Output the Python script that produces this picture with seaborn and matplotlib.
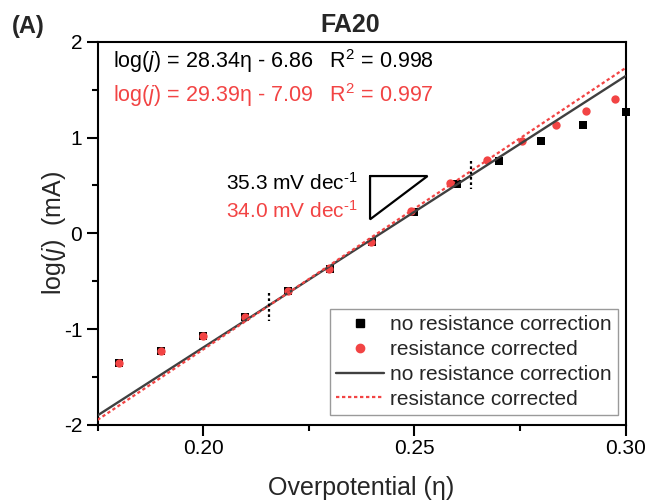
import numpy as np
import pandas as pd
import matplotlib
matplotlib.use("Agg")
import matplotlib.pyplot as plt
from matplotlib.lines import Line2D
from matplotlib.ticker import MultipleLocator
import seaborn as sns

# Tafel data for FA20
eta_raw = [0.18, 0.19, 0.20, 0.21, 0.22, 0.23, 0.24, 0.25, 0.26, 0.27, 0.28, 0.29, 0.30]
logj_raw = [-1.35, -1.23, -1.07, -0.87, -0.60, -0.37, -0.09, 0.22, 0.515, 0.76, 0.963, 1.13, 1.27]

eta_corr = [0.18, 0.19, 0.20, 0.21, 0.22, 0.2298, 0.2397, 0.2493, 0.2584, 0.2672,
            0.2754, 0.2834, 0.2907, 0.2974]
logj_corr = [-1.35, -1.23, -1.07, -0.87, -0.60, -0.37, -0.09, 0.235, 0.522, 0.765,
             0.963, 1.13, 1.275, 1.40]

# Linear fits (slope, intercept) as reported
fit_slope = [28.34, 29.39]
fit_intercept = [-6.86, -7.09]
fit_r2 = [0.998, 0.997]
tafel_slopes = ["35.3", "34.0"]
series_names = ["no resistance correction", "resistance corrected"]

# Fit window boundaries
fit_window = [0.2156, 0.2634]

BLACK = "#000000"
RED = "#F24444"
GREY = "#404040"

sns.set_style("ticks")
plt.rcParams["font.family"] = ["Liberation Sans", "DejaVu Sans"]
plt.rcParams["mathtext.fontset"] = "custom"
plt.rcParams["mathtext.rm"] = "Liberation Sans"
plt.rcParams["mathtext.it"] = "Liberation Sans:italic"
plt.rcParams["mathtext.bf"] = "Liberation Sans:bold"

fig = plt.figure(figsize=(6.48, 5.04), dpi=100)
ax = fig.add_axes([97.5 / 648, 1 - 425 / 504, 528.2 / 648, 383.3 / 504])

xlim = (0.175, 0.30)
df_raw = pd.DataFrame({"eta": eta_raw, "logj": logj_raw})
df_corr = pd.DataFrame({"eta": eta_corr, "logj": logj_corr})

sns.scatterplot(data=df_raw, x="eta", y="logj", marker="s", s=34, color=BLACK,
                linewidth=0, ax=ax, clip_on=False, zorder=3)
sns.scatterplot(data=df_corr, x="eta", y="logj", marker="o", s=36, color=RED,
                linewidth=0, ax=ax, clip_on=False, zorder=4)

x_fit = np.array(xlim)
df_fit0 = pd.DataFrame({"eta": x_fit, "logj": fit_slope[0] * x_fit + fit_intercept[0]})
df_fit1 = pd.DataFrame({"eta": x_fit, "logj": fit_slope[1] * x_fit + fit_intercept[1]})
sns.lineplot(data=df_fit0, x="eta", y="logj", color=GREY, linewidth=1.7, ax=ax, zorder=5)
sns.lineplot(data=df_fit1, x="eta", y="logj", color=RED, linewidth=1.6,
             linestyle=(0, (1.5, 1.2)), ax=ax, zorder=6)

# fit window markers
ax.plot([fit_window[0]] * 2, [-0.625, -0.915], color=BLACK, lw=1.6,
        linestyle=(0, (1.2, 1.2)), zorder=7)
ax.plot([fit_window[1]] * 2, [0.75, 0.46], color=BLACK, lw=1.6,
        linestyle=(0, (1.2, 1.2)), zorder=7)

# slope triangle
tri_x = [0.2395, 0.2531, 0.2395, 0.2395]
tri_y = [0.598, 0.598, 0.146, 0.598]
ax.plot(tri_x, tri_y, color=BLACK, lw=1.6, solid_joinstyle="miter", zorder=7)

ax.text(0.2365, 0.452, tafel_slopes[0] + r" mV dec$^{\text{-1}}$", color=BLACK, fontsize=15,
        ha="right", va="baseline")
ax.text(0.2365, 0.167, tafel_slopes[1] + r" mV dec$^{\text{-1}}$", color=RED, fontsize=15,
        ha="right", va="baseline")

ax.text(0.029, 0.9306,
        r"log($j$) = %.2fη - %.2f   R$^2$ = %.3f" % (fit_slope[0], -fit_intercept[0], fit_r2[0]),
        transform=ax.transAxes, color=BLACK, fontsize=15.5, ha="left", va="baseline")
ax.text(0.029, 0.8435,
        r"log($j$) = %.2fη - %.2f   R$^2$ = %.3f" % (fit_slope[1], -fit_intercept[1], fit_r2[1]),
        transform=ax.transAxes, color=RED, fontsize=15.5, ha="left", va="baseline")

ax.set_xlim(*xlim)
ax.set_ylim(-2, 2)
ax.xaxis.set_major_locator(MultipleLocator(0.05))
ax.xaxis.set_minor_locator(MultipleLocator(0.025))
ax.yaxis.set_major_locator(MultipleLocator(1))
ax.yaxis.set_minor_locator(MultipleLocator(0.5))
ax.set_xticks([0.20, 0.25, 0.30])
ax.set_xticklabels(["0.20", "0.25", "0.30"])
ax.set_yticks([-2, -1, 0, 1, 2])
ax.set_yticklabels(["-2", "-1", "0", "1", "2"])

ax.tick_params(axis="both", which="major", direction="out", length=8, width=1.5,
               labelsize=15, color=BLACK, labelcolor=BLACK)
ax.tick_params(axis="both", which="minor", direction="out", length=4.5, width=1.5, color=BLACK)
ax.tick_params(axis="x", which="major", pad=2)
ax.tick_params(axis="y", which="major", pad=3)
ax.tick_params(top=False, right=False, which="both")
for sp in ax.spines.values():
    sp.set_visible(True)
    sp.set_linewidth(1.5)
    sp.set_color(BLACK)

ax.set_xlabel("Overpotential (η)", fontsize=18, labelpad=13)
ax.set_ylabel(r"log($j$)  (mA)", fontsize=18, labelpad=-3)

handles = [
    Line2D([], [], marker="s", linestyle="none", color=BLACK, markersize=5.8),
    Line2D([], [], marker="o", linestyle="none", color=RED, markersize=6),
    Line2D([], [], color=GREY, linewidth=1.7),
    Line2D([], [], color=RED, linewidth=1.6, linestyle=(0, (1.5, 1.2))),
]
labels = [series_names[0], series_names[1], series_names[0], series_names[1]]
leg = ax.legend(handles, labels, loc="lower right", bbox_to_anchor=(0.9854, 0.026),
                borderaxespad=0, fontsize=15, frameon=True, fancybox=False,
                framealpha=1, edgecolor="#9a9a9a", handlelength=2.3,
                handletextpad=0.3, labelspacing=0.28, borderpad=0.3)
leg.get_frame().set_linewidth(1.0)

fig.text(350 / 648, 1 - 25.5 / 504, "FA20", fontsize=18, fontweight="bold",
         ha="center", va="center")
fig.text(28 / 648, 1 - 26 / 504, "(A)", fontsize=17, fontweight="bold",
         ha="center", va="center")

fig.savefig("out.png", dpi=100)
